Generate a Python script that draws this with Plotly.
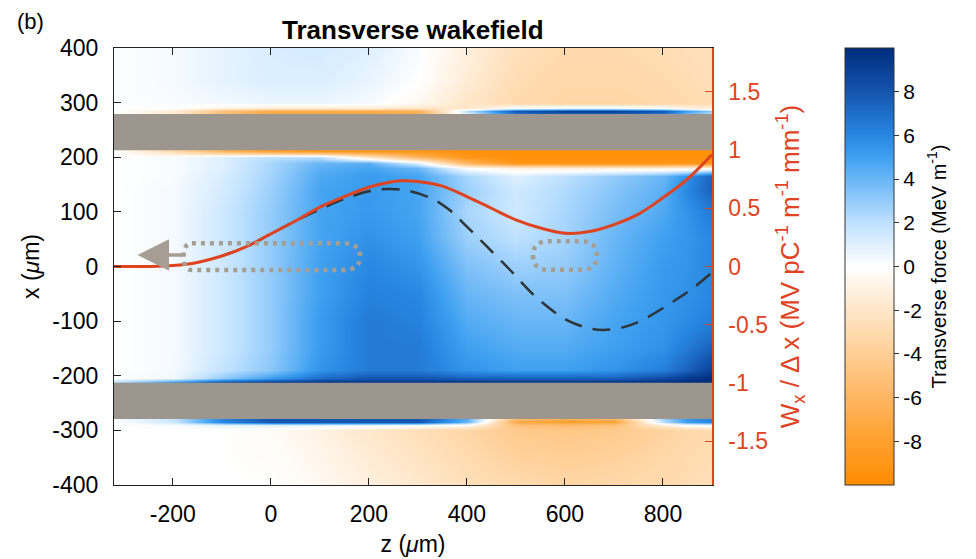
import plotly.graph_objects as go

# ---------------- data ----------------
# Transverse force map (MeV/m): rows = x nodes (um), columns = z nodes (um)
z_nodes = [-320, -200, -100, 0, 100, 200, 300, 400, 500, 600, 700, 800, 850, 900]
x_nodes = [-400, -340, -300, -290, -284, -211, -205, -190, -150, -100, -50, 0,
           50, 100, 140, 165, 180, 190, 200, 211, 284, 290, 300, 340, 400]
force_table = [
    [0, 0, 0, 0, -0.5, -1.2, -1.8, -2.5, -3.0, -3.3, -3.2, -3.0, -2.8, -2.6],   # -400
    [0, 0, 0, -0.2, -0.8, -1.6, -2.3, -3.0, -3.8, -4.0, -3.8, -3.3, -3.0, -2.8],  # -340
    [0, 0, 0, -0.3, -1.0, -1.9, -2.6, -3.3, -4.3, -4.6, -4.3, -3.6, -3.2, -3.0],  # -300
    [0, 0.2, 0.8, 1, 1, 0.8, 0.5, -0.5, -5.0, -5.5, -5.0, -1.5, 0, 0.5],        # -290
    [0, 1.5, 6, 8, 8, 8, 8, 4, -7, -8, -7.5, 2, 5, 6],                         # -284
    [2, 5, 8, 9, 9.5, 9.5, 9.5, 9.5, 9.5, 9.5, 9.5, 9.8, 10, 10],              # -211
    [0, 0.5, 3, 5, 7, 8, 8, 7.5, 7.5, 7.5, 7.5, 8.5, 9.3, 10],                 # -205
    [0, 0.3, 1.8, 3.2, 5.5, 6.5, 6.5, 5.5, 5, 5, 5.5, 6.3, 7.5, 9],            # -190
    [0, 0.3, 1.5, 3, 5.2, 6.5, 6.5, 5, 4.5, 4.5, 5, 5.6, 6.5, 7.5],            # -150
    [0, 0.3, 1.5, 3, 5.2, 6.5, 6.2, 4.5, 4, 4, 4.8, 5.4, 5.8, 6.3],            # -100
    [0, 0.3, 1.5, 3, 5, 6.2, 6, 4, 3.5, 3.5, 4.5, 5.3, 5.6, 6],                # -50
    [0, 0.3, 1.5, 3, 5, 6, 5.5, 3.5, 2.8, 3, 4.2, 5.2, 5.5, 6],                # 0
    [0, 0.3, 1.5, 3, 4.8, 5.6, 5, 2.8, 2, 2.6, 4, 5, 5.4, 6],                  # 50
    [0, 0.3, 1.5, 3, 4.8, 5.3, 4.8, 2.5, 1.5, 2.5, 3.6, 4.6, 5.5, 6.5],        # 100
    [0, 0.3, 1.3, 2.8, 4.8, 5.2, 4.8, 2.8, 1.5, 2.3, 3.3, 4.3, 6, 7.5],        # 140
    [0, 0.2, 1.2, 2.6, 4.6, 5.2, 4.8, 2.5, 1, 2, 3, 4, 5.5, 7.5],              # 165
    [0, 0.2, 1, 2.5, 4.3, 4.8, 4, 0, -1, -1.2, -1.2, -1.2, -1, -0.5],          # 180
    [0, 0.2, 1, 2.5, 4, 4.3, 1, -6, -9, -9, -9, -9, -9, -9],                   # 190
    [0, 0.2, 1, 2, 2, -2, -6, -9, -9.5, -9.5, -9.5, -9.5, -9.5, -9.5],         # 200
    [0, -3, -6, -8, -9, -9, -9, -9.5, -9.5, -9.5, -9.5, -9.5, -9.5, -9.5],     # 211
    [0, -1.5, -5, -7, -7, -7, -6.5, 2, 8, 9, 9, 8, 5, 3],                      # 284
    [0.1, 0, -1, -1.5, -1.5, -1.5, -2, -2, 0, 0.5, 0.5, 0, -1, -1.5],          # 290
    [0.1, 0.2, 0.4, 0.6, 0.6, 0.3, -0.5, -2, -3, -3.4, -3.4, -3.2, -3, -2.8],  # 300
    [0.1, 0.3, 0.8, 1.1, 1.1, 0.7, 0, -1.5, -2.8, -3.2, -3.2, -3, -2.8, -2.6], # 340
    [0.1, 0.3, 0.8, 1.2, 1.3, 1.0, 0.2, -1.2, -2.5, -3.0, -3.0, -2.8, -2.6, -2.5],  # 400
]

# Wx/dx (right axis), red solid line
red_z = [-320, -250, -200, -150, -100, -50, 0, 50, 100, 150, 200, 264, 300, 350,
         400, 450, 500, 550, 600, 650, 700, 750, 800, 850, 900]
red_w = [0, 0, 0.008, 0.035, 0.09, 0.17, 0.28, 0.39, 0.51, 0.60, 0.68, 0.735, 0.73,
         0.69, 0.60, 0.50, 0.40, 0.33, 0.285, 0.30, 0.36, 0.45, 0.59, 0.75, 0.96]

# dashed black line (right axis)
dash_z = [-100, -50, 0, 50, 100, 150, 200, 240, 280, 330, 366, 393, 434, 488, 543,
          604, 650, 679, 720, 753, 821, 860, 900]
dash_w = [0.09, 0.17, 0.28, 0.39, 0.49, 0.58, 0.645, 0.665, 0.65, 0.58, 0.48, 0.37,
          0.20, -0.03, -0.27, -0.46, -0.53, -0.545, -0.52, -0.47, -0.30, -0.19, -0.05]

# dielectric walls (x extent, um)
wall_lo = [213, -279]
wall_hi = [279, -213]

# bunches: z centre, half length, x centre, half width, end roundings (left, right)
bunch_zc = [2, 600]
bunch_half_len = [180, 65]
bunch_xc = [18, 20]
bunch_half_w = [24.5, 26]
bunch_round_l = [17, 30]
bunch_round_r = [35, 30]

# arrow (direction of motion)
arrow_tip_z, arrow_tail_z, arrow_x = -272, -176, 21

x_ticks = [-400, -300, -200, -100, 0, 100, 200, 300, 400]
z_ticks = [-200, 0, 200, 400, 600, 800]
w_ticks = [-1.5, -1, -0.5, 0, 0.5, 1, 1.5]
cb_ticks = [-8, -6, -4, -2, 0, 2, 4, 6, 8]


def lab(v):
    return str(v).replace("\u2212", "-")


RED = "#E0431F"
GRAY = "#A69E93"
FONT = "Liberation Sans, Arial, sans-serif"
TICK = 23

# page body has an 8px margin; plot area wanted at x 114..712, y 48..485
W, H, OFF = 968, 551, 8
L, R, T, B = 114 - OFF, W - (712 - OFF), 48 - OFF, H - (485 - OFF)

colorscale = [
    [0.0, "rgb(255,140,0)"],
    [0.1, "rgb(255,160,45)"],
    [0.2, "rgb(255,182,98)"],
    [0.3, "rgb(255,206,148)"],
    [0.4, "rgb(255,230,200)"],
    [0.5, "rgb(255,255,255)"],
    [0.6, "rgb(190,225,255)"],
    [0.7, "rgb(105,182,246)"],
    [0.75, "rgb(62,160,240)"],
    [0.8, "rgb(40,135,225)"],
    [0.9, "rgb(20,85,175)"],
    [1.0, "rgb(0,45,125)"],
]

fig = go.Figure()

fig.add_trace(go.Heatmap(
    x=z_nodes, y=x_nodes, z=force_table, zsmooth="best",
    colorscale=colorscale, zmin=-10, zmax=10,
    colorbar=dict(
        x=(845 - 114) / 598, xanchor="left", y=0.5, yanchor="middle",
        len=1, lenmode="fraction", thickness=49, thicknessmode="pixels",
        xpad=0, ypad=0, outlinewidth=1, outlinecolor="#333",
        ticks="outside", ticklen=5, tickcolor="#333",
        tickvals=cb_ticks, ticktext=[lab(v) for v in cb_ticks],
        tickfont=dict(size=21, color="black", family=FONT),
        title=dict(text="Transverse force (MeV m<sup>-1</sup>)", side="right",
                   font=dict(size=20, color="black", family=FONT)),
    ),
    hoverinfo="skip",
))

fig.add_trace(go.Scatter(
    x=dash_z, y=dash_w, yaxis="y2", mode="lines",
    line=dict(color="#2E3437", width=2.5, dash="18px,11px", shape="spline"),
    hoverinfo="skip", showlegend=False,
))
fig.add_trace(go.Scatter(
    x=red_z, y=red_w, yaxis="y2", mode="lines",
    line=dict(color=RED, width=3, shape="spline"),
    hoverinfo="skip", showlegend=False,
))

shapes = []
for lo, hi in zip(wall_lo, wall_hi):
    shapes.append(dict(type="rect", xref="x", yref="y", x0=-320, x1=900, y0=lo, y1=hi,
                       fillcolor="#9C968F", line=dict(width=0), layer="above"))
for zc, hl, xc, hw, rl, rr in zip(bunch_zc, bunch_half_len, bunch_xc, bunch_half_w,
                                  bunch_round_l, bunch_round_r):
    zl, zr = zc - hl, zc + hl
    yt, yb = xc + hw, xc - hw
    path = (f"M {zl + rl},{yt} L {zr - rr},{yt} Q {zr},{yt} {zr},{xc} "
            f"Q {zr},{yb} {zr - rr},{yb} L {zl + rl},{yb} Q {zl},{yb} {zl},{xc} "
            f"Q {zl},{yt} {zl + rl},{yt} Z")
    shapes.append(dict(type="path", xref="x", yref="y", path=path,
                       line=dict(color=GRAY, width=4.5, dash="4px,5px"), layer="above"))

annotations = [
    dict(x=arrow_tip_z, y=arrow_x, ax=arrow_tail_z, ay=arrow_x, xref="x", yref="y",
         axref="x", ayref="y", text="", showarrow=True, arrowhead=2, arrowsize=1.8,
         arrowwidth=3.5, arrowcolor=GRAY),
    dict(x=(30 - 114) / 598, y=(485 - 21) / 437, xref="paper", yref="paper",
         text="(b)", showarrow=False, font=dict(size=22, color="black", family=FONT),
         xanchor="center", yanchor="middle"),
    dict(x=0.5, y=(485 - 30) / 437, xref="paper", yref="paper",
         text="<b>Transverse wakefield</b>", showarrow=False,
         font=dict(size=26, color="black", family=FONT),
         xanchor="center", yanchor="middle"),
]

fig.update_layout(
    width=W, height=H,
    margin=dict(l=L, r=R, t=T, b=B, autoexpand=False),
    paper_bgcolor="white", plot_bgcolor="white",
    font=dict(family=FONT, size=TICK, color="black"),
    showlegend=False,
    shapes=shapes, annotations=annotations,
    xaxis=dict(
        range=[-320, 900], tickvals=z_ticks, ticktext=[lab(v) for v in z_ticks],
        ticks="inside", ticklen=7, tickcolor="#222", showline=True, linecolor="#222",
        linewidth=1, mirror="ticks", showgrid=False, zeroline=False,
        ticklabelstandoff=8, tickfont=dict(size=TICK),
        title=dict(text="z (<i>μ</i>m)", standoff=10, font=dict(size=TICK)),
    ),
    yaxis=dict(
        range=[-400, 400], tickvals=x_ticks, ticktext=[lab(v) for v in x_ticks],
        ticks="inside", ticklen=7, tickcolor="#222", showline=True, linecolor="#222",
        linewidth=1, showgrid=False, zeroline=False, ticklabelstandoff=10,
        tickfont=dict(size=TICK),
        title=dict(text="x (<i>μ</i>m)", standoff=6, font=dict(size=TICK)),
    ),
    yaxis2=dict(
        overlaying="y", side="right", range=[-1.875, 1.875],
        tickvals=w_ticks, ticktext=[lab(v) for v in w_ticks],
        ticks="inside", ticklen=7, tickcolor=RED, showline=True, linecolor=RED,
        linewidth=1.5, showgrid=False, zeroline=False, ticklabelstandoff=10,
        tickfont=dict(color=RED, size=TICK),
        title=dict(text="W<sub>x</sub> / Δ x (MV pC<sup>-1</sup> m<sup>-1</sup> mm<sup>-1</sup>)",
                   standoff=14, font=dict(color=RED, size=26)),
    ),
)

fig.write_html("out.html")
